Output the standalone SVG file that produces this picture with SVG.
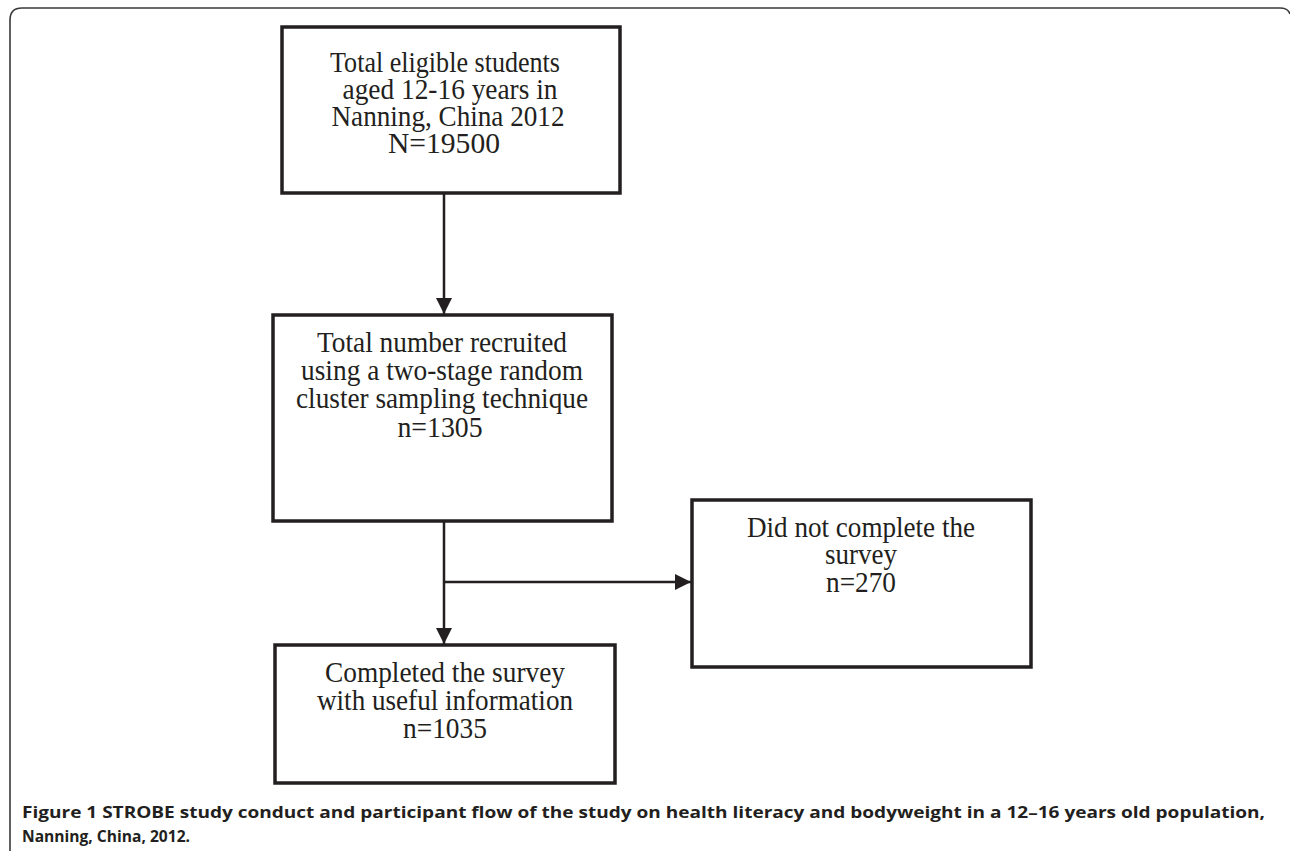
<svg xmlns="http://www.w3.org/2000/svg" width="1290" height="851" viewBox="0 0 1290 851">
<style>
.box{fill:#fff;stroke:#231f20;stroke-width:3.5}
.t{font-family:"Liberation Serif","Times New Roman",serif;font-size:29px;fill:#231f20;text-anchor:middle}
.cap{font-family:"Open Sans","Liberation Sans",sans-serif;font-weight:bold;font-size:16px;fill:#231f20}
.ln{fill:none;stroke:#231f20;stroke-width:2.5}
.frame{fill:none;stroke:#3a3a3a;stroke-width:1.6}
</style>
<defs>
<marker id="ah" markerUnits="userSpaceOnUse" markerWidth="16" markerHeight="16" viewBox="0 0 16 16" refX="16" refY="8" orient="auto">
<path d="M0,0 L16,8 L0,16 Z" fill="#231f20"/>
</marker>
</defs>
<rect width="1290" height="851" fill="#fff"/>
<path class="frame" d="M10,851 V20 Q10,8 22,8 H1280 Q1288,8 1290,14"/>
<g id="n1">
<rect class="box" x="282" y="27" width="338" height="166"/>
<text class="t" x="445" y="72" textLength="230" lengthAdjust="spacingAndGlyphs">Total eligible students</text>
<text class="t" x="450" y="99" textLength="215" lengthAdjust="spacingAndGlyphs">aged 12-16 years in</text>
<text class="t" x="448" y="126" textLength="233" lengthAdjust="spacingAndGlyphs">Nanning, China 2012</text>
<text class="t" x="444" y="153" textLength="112" lengthAdjust="spacingAndGlyphs">N=19500</text>
</g>
<g id="n2">
<rect class="box" x="273" y="315" width="339" height="206"/>
<text class="t" x="442" y="352" textLength="250" lengthAdjust="spacingAndGlyphs">Total number recruited</text>
<text class="t" x="442" y="380" textLength="282" lengthAdjust="spacingAndGlyphs">using a two-stage random</text>
<text class="t" x="442" y="408" textLength="292" lengthAdjust="spacingAndGlyphs">cluster sampling technique</text>
<text class="t" x="440" y="437" textLength="85" lengthAdjust="spacingAndGlyphs">n=1305</text>
</g>
<g id="n3">
<rect class="box" x="692" y="500" width="339" height="167"/>
<text class="t" x="861" y="537" textLength="228" lengthAdjust="spacingAndGlyphs">Did not complete the</text>
<text class="t" x="861" y="564" textLength="72" lengthAdjust="spacingAndGlyphs">survey</text>
<text class="t" x="861" y="592" textLength="70" lengthAdjust="spacingAndGlyphs">n=270</text>
</g>
<g id="n4">
<rect class="box" x="275" y="645" width="340" height="138"/>
<text class="t" x="445" y="682" textLength="240" lengthAdjust="spacingAndGlyphs">Completed the survey</text>
<text class="t" x="445" y="710" textLength="256" lengthAdjust="spacingAndGlyphs">with useful information</text>
<text class="t" x="445" y="738" textLength="84" lengthAdjust="spacingAndGlyphs">n=1035</text>
</g>
<g id="connectors">
<line class="ln" x1="444" y1="193" x2="444" y2="314" marker-end="url(#ah)"/>
<line class="ln" x1="444" y1="521" x2="444" y2="644" marker-end="url(#ah)"/>
<line class="ln" x1="444" y1="582" x2="691" y2="582" marker-end="url(#ah)"/>
</g>
<g id="caption">
<text class="cap" x="22" y="818" textLength="1243" lengthAdjust="spacingAndGlyphs">Figure 1 STROBE study conduct and participant flow of the study on health literacy and bodyweight in a 12–16 years old population,</text>
<text class="cap" x="22" y="842" textLength="168" lengthAdjust="spacingAndGlyphs">Nanning, China, 2012.</text>
</g>
</svg>
